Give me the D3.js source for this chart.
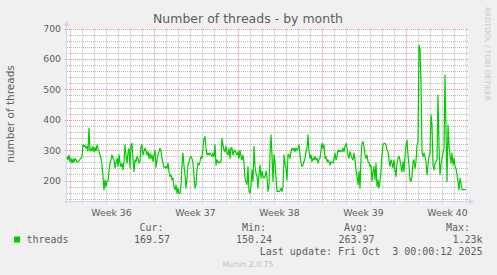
<!DOCTYPE html>
<html><head><meta charset="utf-8">
<script src="https://cdn.jsdelivr.net/npm/d3@7"></script>
<style>html,body{margin:0;padding:0;background:#f0f0f0;} svg{display:block}</style>
</head><body><svg id="c" width="497" height="275"></svg>
<script>
const title = "Number of threads - by month";
const yLabel = "number of threads";
const seriesName = "threads";
const startTime = Date.UTC(2025, 7, 31, 19, 0); // first sample
const stepHours = 2;
const values = [
279,268,284,262,273,257,271,260,273,268,
260,262,265,270,273,279,317,312,315,306,
312,297,372,297,306,297,312,295,308,297,
317,304,295,284,273,251,215,169,202,180,
197,197,230,257,268,284,273,268,241,257,
273,246,284,257,246,257,235,262,317,284,
257,290,306,241,317,322,268,230,268,262,
279,273,257,262,312,317,284,295,306,300,
284,295,273,290,273,284,262,284,300,243,
268,284,295,306,295,273,257,243,241,246,
241,257,230,213,219,202,208,180,169,186,
158,175,158,158,186,251,290,246,219,175,
208,251,262,273,279,273,257,213,175,186,
235,257,251,262,279,273,306,339,344,306,
284,290,284,290,284,279,290,279,317,251,
268,262,257,262,260,339,317,300,295,312,
290,284,306,273,308,306,284,295,300,290,
284,295,273,300,279,268,284,257,208,197,
186,246,164,158,180,235,197,312,246,224,
213,175,224,251,208,230,213,208,213,230,
213,164,186,284,350,284,197,284,262,208,
164,164,164,166,175,164,180,284,257,241,
202,286,284,273,295,306,300,306,295,306,
300,306,317,284,257,246,251,262,273,295,
306,350,295,273,284,262,273,268,279,268,
273,257,268,273,300,322,306,317,273,279,
262,268,262,251,262,260,257,273,290,268,
279,300,295,300,295,295,306,295,312,322,
306,284,273,295,284,273,268,290,268,235,
213,186,230,175,273,322,328,312,284,273,
284,262,257,246,251,197,230,246,202,257,
180,202,175,197,230,284,317,322,322,317,
300,295,268,246,268,257,241,268,235,213,
257,273,279,268,246,229,262,229,279,317,
333,284,251,202,197,213,262,268,240,262,
317,328,645,634,514,295,279,290,279,262,
219,251,279,290,415,383,251,235,257,262,
268,481,311,219,251,273,290,306,547,361,
197,383,317,284,257,290,251,273,246,240,
219,197,169,208,191,170,170,170,170,170
];
const yTicks = [200, 300, 400, 500, 600, 700];
const yDomain = [132.6, 700];
const weekStarts = [Date.UTC(2025,8,1), Date.UTC(2025,8,8), Date.UTC(2025,8,15), Date.UTC(2025,8,22), Date.UTC(2025,8,29)];
const weekLabels = ["Week 36", "Week 37", "Week 38", "Week 39", "Week 40"];
const legendHeads = ["Cur:", "Min:", "Avg:", "Max:"];
const legendVals = ["169.57", "150.24", "263.97", "1.23k"];
const lastUpdate = "Last update: Fri Oct  3 00:00:12 2025";
const footer = "Munin 2.0.75";
const watermark = "RRDTOOL / TOBI OETIKER";

const H = 3600 * 1000;
const L = 67, R = 468, T = 28.5, B = 201;
const svg = d3.select("#c");
const x = d3.scaleUtc().domain([startTime, startTime + 401 * stepHours * H]).range([L, R]);
const y = d3.scaleLinear().domain(yDomain).range([B, T]);

svg.append("rect").attr("width", 497).attr("height", 275).attr("fill", "#f0f0f0");
svg.append("rect").attr("x", L).attr("y", T).attr("width", R - L).attr("height", B - T).attr("fill", "#ffffff");

const sans = "DejaVu Sans, sans-serif", mono = "DejaVu Sans Mono, monospace";
const minorCol = "rgba(150,150,150,0.65)", majorCol = "rgba(225,90,90,0.65)";

// horizontal grid
const minorY = d3.range(140, 701, 20).filter(v => v % 100 !== 0);
svg.append("g").selectAll("line").data(minorY).join("line")
  .attr("x1", L).attr("x2", R).attr("y1", d => Math.round(y(d)) + 0.5).attr("y2", d => Math.round(y(d)) + 0.5)
  .attr("stroke", minorCol).attr("stroke-dasharray", "1,1");
svg.append("g").selectAll("line").data(yTicks).join("line")
  .attr("x1", L - 2).attr("x2", R).attr("y1", d => Math.round(y(d)) + 0.5).attr("y2", d => Math.round(y(d)) + 0.5)
  .attr("stroke", majorCol).attr("stroke-dasharray", "1,1");

// vertical grid
const days = d3.utcDay.range(x.domain()[0], x.domain()[1]).filter(d => d.getUTCDay() !== 1);
const mondays = d3.utcMonday.range(x.domain()[0], x.domain()[1]);
svg.append("g").selectAll("line").data(days).join("line")
  .attr("x1", d => Math.round(x(d)) + 0.5).attr("x2", d => Math.round(x(d)) + 0.5)
  .attr("y1", T).attr("y2", B + 2).attr("stroke", minorCol).attr("stroke-dasharray", "1,1");
svg.append("g").selectAll("line").data(mondays).join("line")
  .attr("x1", d => Math.round(x(d)) + 0.5).attr("x2", d => Math.round(x(d)) + 0.5)
  .attr("y1", T).attr("y2", B + 2).attr("stroke", majorCol).attr("stroke-dasharray", "1,1");

// axes
const axisCol = "#cfd6f8";
svg.append("line").attr("x1", 64).attr("x2", 470).attr("y1", B + 0.5).attr("y2", B + 0.5).attr("stroke", axisCol);
svg.append("path").attr("d", `M469,${B - 2.5}L474,${B + 0.5}L469,${B + 3.5}Z`).attr("fill", axisCol);
svg.append("line").attr("x1", L - 0.5).attr("x2", L - 0.5).attr("y1", B + 3).attr("y2", 24).attr("stroke", axisCol);
svg.append("path").attr("d", `M${L - 3.5},26L${L - 0.5},21L${L + 2.5},26Z`).attr("fill", axisCol);

// y tick labels
svg.append("g").selectAll("text").data(yTicks).join("text")
  .attr("x", 61).attr("y", d => y(d) + 3.5).attr("text-anchor", "end")
  .attr("font-family", sans).attr("font-size", 9.3).attr("fill", "#5e5e5e").text(d => d);

// week labels
svg.append("g").selectAll("text").data(weekStarts).join("text")
  .attr("x", d => x(d + 3.5 * 24 * H)).attr("y", 216).attr("text-anchor", "middle")
  .attr("font-family", sans).attr("font-size", 9.3).attr("fill", "#5e5e5e").text((d, i) => weekLabels[i]);

// data line
const line = d3.line().x((d, i) => x(startTime + i * stepHours * H)).y(d => y(d));
svg.append("path").datum(values).attr("d", line).attr("fill", "none")
  .attr("stroke", "#00cc00").attr("stroke-width", 1.2).attr("stroke-linejoin", "round");

// title
svg.append("text").attr("x", 248).attr("y", 23).attr("text-anchor", "middle")
  .attr("font-family", sans).attr("font-size", 12.5).attr("fill", "#5e5e5e").text(title);

// y label
svg.append("text").attr("transform", "translate(14,114) rotate(-90)").attr("text-anchor", "middle")
  .attr("font-family", sans).attr("font-size", 10.5).attr("fill", "#5e5e5e").text(yLabel);

// watermark
svg.append("text").attr("transform", "translate(485,7) rotate(90)").attr("text-anchor", "start")
  .attr("font-family", sans).attr("font-size", 7.3).attr("fill", "#c8c8c8").text(watermark);

// legend
svg.append("rect").attr("x", 14).attr("y", 236.5).attr("width", 6).attr("height", 6).attr("fill", "#00cc00");
svg.append("text").attr("x", 26.5).attr("y", 243).attr("font-family", mono).attr("font-size", 10)
  .attr("fill", "#5e5e5e").text(seriesName);
const headRight = [163.5, 266, 368, 470];
const valRight = [170, 272, 374.5, 482.5];
svg.append("g").selectAll("text").data(legendHeads).join("text")
  .attr("x", (d, i) => headRight[i]).attr("y", 231).attr("text-anchor", "end")
  .attr("font-family", mono).attr("font-size", 10).attr("fill", "#5e5e5e").text(d => d);
svg.append("g").selectAll("text").data(legendVals).join("text")
  .attr("x", (d, i) => valRight[i]).attr("y", 243).attr("text-anchor", "end")
  .attr("font-family", mono).attr("font-size", 10).attr("fill", "#5e5e5e").text(d => d);
svg.append("text").attr("x", 482.5).attr("y", 255).attr("text-anchor", "end")
  .attr("font-family", mono).attr("font-size", 10).attr("fill", "#5e5e5e").attr("xml:space", "preserve")
  .style("white-space", "pre").text(lastUpdate);
svg.append("text").attr("x", 248).attr("y", 267).attr("text-anchor", "middle")
  .attr("font-family", sans).attr("font-size", 7.8).attr("fill", "#c0c0c0").text(footer);
</script></body></html>
